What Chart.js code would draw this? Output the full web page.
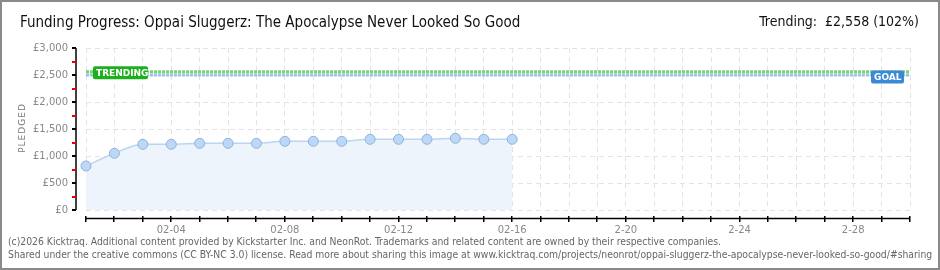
<!DOCTYPE html>
<html>
<head>
<meta charset="utf-8">
<script src="https://cdn.jsdelivr.net/npm/chart.js@4.4.1/dist/chart.umd.min.js"></script>
<style>
  body { margin: 0; background: #fff; }
  #wrap { position: relative; width: 940px; height: 270px; overflow: hidden; background: #fff; }
  #chart { position: absolute; left: 0; top: 0; }
  .frame { position: absolute; left: 0; top: 0; right: 0; bottom: 0; border: 2px solid #8a8a8a; pointer-events: none; }
  .title { position: absolute; left: 20px; top: 13px; font: 15px "Liberation Sans Narrow", "DejaVu Sans Condensed", sans-serif; color: #111; white-space: nowrap; }
  .trend { position: absolute; right: 21px; top: 13px; font: 14px "Liberation Sans Narrow", "DejaVu Sans Condensed", sans-serif; color: #111; white-space: nowrap; }
  .foot { position: absolute; left: 8px; font: 10.3px "Liberation Sans Narrow", "DejaVu Sans Condensed", sans-serif; color: #666; white-space: nowrap; }
</style>
</head>
<body>
<div id="wrap">
  <canvas id="chart" width="940" height="270"></canvas>
  <div class="title">Funding Progress: Oppai Sluggerz: The Apocalypse Never Looked So Good</div>
  <div class="trend">Trending: &nbsp;£2,558 (102%)</div>
  <div class="foot" style="top:235px">(c)2026 Kicktraq. Additional content provided by Kickstarter Inc. and NeonRot. Trademarks and related content are owned by their respective companies.</div>
  <div class="foot" style="top:248px">Shared under the creative commons (CC BY-NC 3.0) license. Read more about sharing this image at www.kicktraq.com/projects/neonrot/oppai-sluggerz-the-apocalypse-never-looked-so-good/#sharing</div>
  <div class="frame"></div>
</div>
<script>
// days on the x axis
const days = ['02-01', '02-02', '02-03', '02-04', '02-05', '02-06', '02-07', '02-08', '02-09', '02-10',
  '02-11', '02-12', '02-13', '02-14', '02-15', '02-16', '02-17', '02-18', '02-19', '2-20',
  '2-21', '2-22', '2-23', '2-24', '2-25', '2-26', '2-27', '2-28', '3-01', '3-02'];
// only these get a label
const shownDays = ['02-04', '02-08', '02-12', '02-16', '2-20', '2-24', '2-28'];

// pledged totals per day (GBP)
const pledged = [815, 1050, 1216, 1216, 1235, 1235, 1235, 1272, 1272, 1272,
  1309, 1309, 1309, 1328, 1309, 1309];

const goal = 2500;
const trending = 2558;

const yMax = 3000;
const yStep = 500;

// axes, minor ticks, goal / trending lines and their tags
const overlayPlugin = {
  id: 'overlay',
  afterDatasetsDraw(chart) {
    const ctx = chart.ctx;
    const x = chart.scales.x;
    const y = chart.scales.y;
    const area = chart.chartArea;

    // goal + trending dotted lines
    const lines = [[goal, '#9cc3ec'], [trending, '#6fd86f']];
    lines.forEach(([v, col]) => {
      const py = y.getPixelForValue(v);
      ctx.save();
      ctx.strokeStyle = col;
      ctx.lineWidth = 3;
      ctx.setLineDash([3, 1]);
      ctx.beginPath();
      ctx.moveTo(area.left, py);
      ctx.lineTo(area.right, py);
      ctx.stroke();
      ctx.restore();
    });

    const tag = (text, col, cx, cy, w) => {
      ctx.save();
      ctx.fillStyle = col;
      ctx.beginPath();
      ctx.roundRect(cx, cy - 6.5, w, 13, 2);
      ctx.fill();
      ctx.fillStyle = '#fff';
      ctx.font = 'bold 9px "DejaVu Sans", sans-serif';
      ctx.textBaseline = 'middle';
      ctx.fillText(text, cx + 3, cy + 0.5);
      ctx.restore();
    };
    tag('TRENDING', '#1daf1d', area.left + 7, y.getPixelForValue(trending) + 1, 55);
    tag('GOAL', '#3b88d6', area.right - 39, y.getPixelForValue(goal) + 2, 33);

    // y axis line with ticks
    const ax = area.left - 10;
    ctx.save();
    ctx.strokeStyle = '#000';
    ctx.lineWidth = 1.5;
    ctx.beginPath();
    ctx.moveTo(ax, y.getPixelForValue(yMax));
    ctx.lineTo(ax, y.getPixelForValue(0));
    ctx.stroke();
    for (let v = 0; v <= yMax; v += yStep / 2) {
      const py = Math.round(y.getPixelForValue(v));
      ctx.fillStyle = v % yStep === 0 ? '#000' : '#e00';
      ctx.fillRect(ax - 4, py - 1, 4, 2);
    }

    // x axis line with ticks
    const ay = area.bottom + 8.5;
    ctx.fillStyle = '#000';
    ctx.strokeStyle = '#000';
    ctx.lineWidth = 1.5;
    ctx.beginPath();
    ctx.moveTo(area.left, ay);
    ctx.lineTo(area.right, ay);
    ctx.stroke();
    days.forEach((d, i) => {
      const px = Math.round(x.getPixelForValue(i));
      ctx.fillRect(px - 1, ay - 2.5, 1.5, 6);
    });

    // rotated axis title
    ctx.fillStyle = '#777';
    ctx.font = '9px "DejaVu Sans", sans-serif';
    ctx.letterSpacing = '1px';
    ctx.translate(23, (area.top + area.bottom) / 2 - 1);
    ctx.rotate(-Math.PI / 2);
    ctx.textAlign = 'center';
    ctx.textBaseline = 'middle';
    ctx.fillText('PLEDGED', 0, 0);
    ctx.restore();
  }
};

new Chart(document.getElementById('chart'), {
  type: 'line',
  data: {
    labels: days,
    datasets: [{
      data: pledged,
      borderColor: '#b9d5f2',
      borderWidth: 1.5,
      backgroundColor: '#edf4fc',
      fill: 'origin',
      cubicInterpolationMode: 'monotone',
      pointRadius: 5,
      pointBackgroundColor: '#bcd8f6',
      pointBorderColor: '#8fb2da',
      pointBorderWidth: 1
    }]
  },
  options: {
    responsive: false,
    animation: false,
    layout: { padding: { top: 48, right: 30, left: 0, bottom: 0 } },
    plugins: { legend: { display: false }, tooltip: { enabled: false } },
    scales: {
      x: {
        afterFit: (s) => { s.height = 60; },
        grid: { color: '#e3e3e3', drawTicks: false },
        border: { display: false, dash: [5, 4] },
        ticks: {
          autoSkip: false,
          maxRotation: 0,
          padding: 14,
          color: '#888',
          font: { family: 'DejaVu Sans', size: 10 },
          callback: function (v) {
            const lab = this.getLabelForValue(v);
            return shownDays.includes(lab) ? lab : '';
          }
        }
      },
      y: {
        min: 0,
        max: yMax,
        afterFit: (s) => { s.width = 86; },
        grid: { color: '#e3e3e3', drawTicks: false },
        border: { display: false, dash: [5, 4] },
        ticks: {
          stepSize: yStep,
          padding: 18,
          color: '#888',
          font: { family: 'DejaVu Sans', size: 10 },
          callback: (v) => '£' + v.toLocaleString('en-US')
        }
      }
    }
  },
  plugins: [overlayPlugin]
});
</script>
</body>
</html>
